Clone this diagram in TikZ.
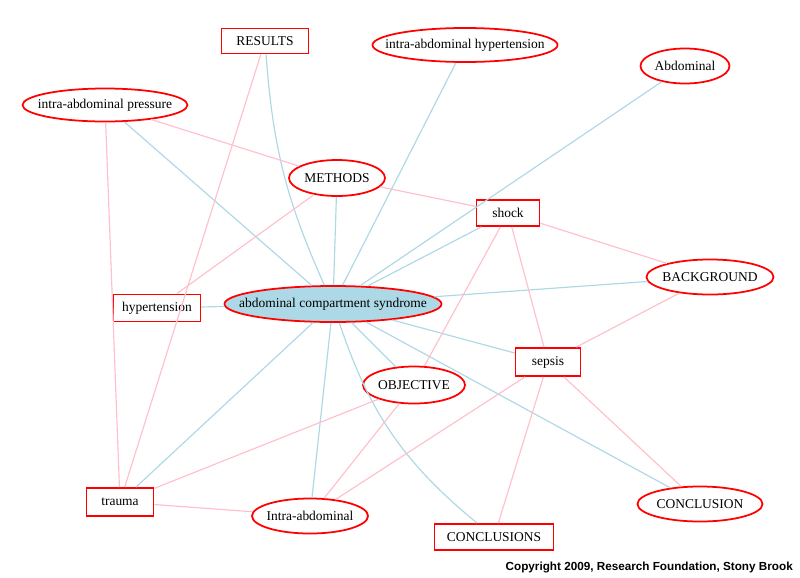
\documentclass[tikz,border=0pt]{standalone}
\usepackage{fontspec}
\usepackage{xcolor}
\usepackage{tikz}
\usetikzlibrary{shapes.geometric}
\newfontfamily\termfont{Liberation Serif}
\newfontfamily\notefont{Liberation Sans}
\definecolor{termRed}{HTML}{FF0000}
\definecolor{hubFill}{HTML}{ADD8E6}
\definecolor{edgeBlue}{HTML}{ADD8E6}
\definecolor{edgePink}{HTML}{FFC0CB}
\tikzset{
  termbox/.style={rectangle, draw=termRed, fill=white, line width=1.5pt, align=center, font=\termfont\fontsize{11.5}{13}\selectfont, inner sep=0pt},
  % text kept out of the ellipse size, so minimum width/height decide it
  flatbox/.style={execute at begin node={\hbox to 0pt\bgroup\hss}, execute at end node={\hss\egroup}},
  termoval/.style={ellipse, flatbox, draw=termRed, fill=white, line width=1.5pt, font=\termfont\fontsize{11.5}{13}\selectfont, inner sep=0pt},
  hubnode/.style={ellipse, flatbox, draw=termRed, fill=hubFill, line width=1.5pt, font=\termfont\fontsize{11.5}{13}\selectfont, inner sep=0pt},
  blueedge/.style={draw=edgeBlue, line width=1pt},
  pinkedge/.style={draw=edgePink, line width=1pt},
  notelabel/.style={font=\notefont\bfseries\fontsize{10}{12}\selectfont, inner sep=0pt},
}
\begin{document}
\begin{tikzpicture}[x=0.03cm,y=-0.03cm]
  \useasboundingbox (0,0) rectangle (800,577);

  % --- terms ---
  \node[hubnode, minimum width=6.51cm, minimum height=1.08cm]
  (acs) at (333,304) {abdominal compartment syndrome};

  \node[termbox, minimum width=2.61cm, minimum height=0.75cm]
  (results) at (265,41) {RESULTS};
  \node[termoval, minimum width=5.55cm, minimum height=1.02cm]
  (iah) at (465,45) {intra-abdominal hypertension};
  \node[termoval, minimum width=2.67cm, minimum height=1.05cm]
  (abdominal) at (685,66) {Abdominal};
  \node[termoval, minimum width=4.95cm, minimum height=0.99cm]
  (iap) at (105,105) {intra-abdominal pressure};
  \node[termoval, minimum width=2.88cm, minimum height=1.08cm]
  (methods) at (337,178) {METHODS};
  \node[termbox, minimum width=1.89cm, minimum height=0.78cm]
  (shock) at (508,213) {shock};
  \node[termoval, minimum width=3.81cm, minimum height=1.05cm]
  (background) at (710,277) {BACKGROUND};
  \node[termbox, minimum width=2.61cm, minimum height=0.81cm]
  (hypertension) at (157,308) {hypertension};
  \node[termbox, minimum width=1.95cm, minimum height=0.84cm]
  (sepsis) at (548,362) {sepsis};
  \node[termoval, minimum width=3.06cm, minimum height=1.11cm]
  (objective) at (414,385) {OBJECTIVE};
  \node[termbox, minimum width=2.01cm, minimum height=0.84cm]
  (trauma) at (120,502) {trauma};
  \node[termoval, minimum width=3.48cm, minimum height=1.05cm]
  (intraabd) at (310,516) {Intra-abdominal};
  \node[termbox, minimum width=3.57cm, minimum height=0.78cm]
  (conclusions) at (494,537) {CONCLUSIONS};
  \node[termoval, minimum width=3.75cm, minimum height=1.05cm]
  (conclusion) at (700,504) {CONCLUSION};

  \node[notelabel, anchor=east] (copyright) at (793,567)
  {Copyright 2009, Research Foundation, Stony Brook};

  % --- links to the hub ---
  \draw[blueedge] (results) to[bend right=10] (acs);
  \draw[blueedge] (iah) -- (acs);
  \draw[blueedge] (abdominal) -- (acs);
  \draw[blueedge] (iap) -- (acs);
  \draw[blueedge] (methods) -- (acs);
  \draw[blueedge] (shock) -- (acs);
  \draw[blueedge] (background) -- (acs);
  \draw[blueedge] (hypertension) -- (acs);
  \draw[blueedge] (sepsis) -- (acs);
  \draw[blueedge] (objective) -- (acs);
  \draw[blueedge] (conclusion) -- (acs);
  \draw[blueedge] (trauma) -- (acs);
  \draw[blueedge] (intraabd) -- (acs);
  \draw[blueedge] (acs) to[bend right=16] (conclusions);

  % --- other links ---
  \draw[pinkedge] (results) -- (trauma);
  \draw[pinkedge] (iap) -- (trauma);
  \draw[pinkedge] (iap) -- (methods);
  \draw[pinkedge] (methods) -- (shock);
  \draw[pinkedge] (methods) -- (hypertension);
  \draw[pinkedge] (shock) -- (background);
  \draw[pinkedge] (shock) -- (objective);
  \draw[pinkedge] (shock) -- (sepsis);
  \draw[pinkedge] (background) -- (sepsis);
  \draw[pinkedge] (sepsis) -- (conclusion);
  \draw[pinkedge] (sepsis) -- (conclusions);
  \draw[pinkedge] (sepsis) -- (intraabd);
  \draw[pinkedge] (objective) -- (trauma);
  \draw[pinkedge] (objective) -- (intraabd);
  \draw[pinkedge] (trauma) -- (intraabd);
\end{tikzpicture}
\end{document}
